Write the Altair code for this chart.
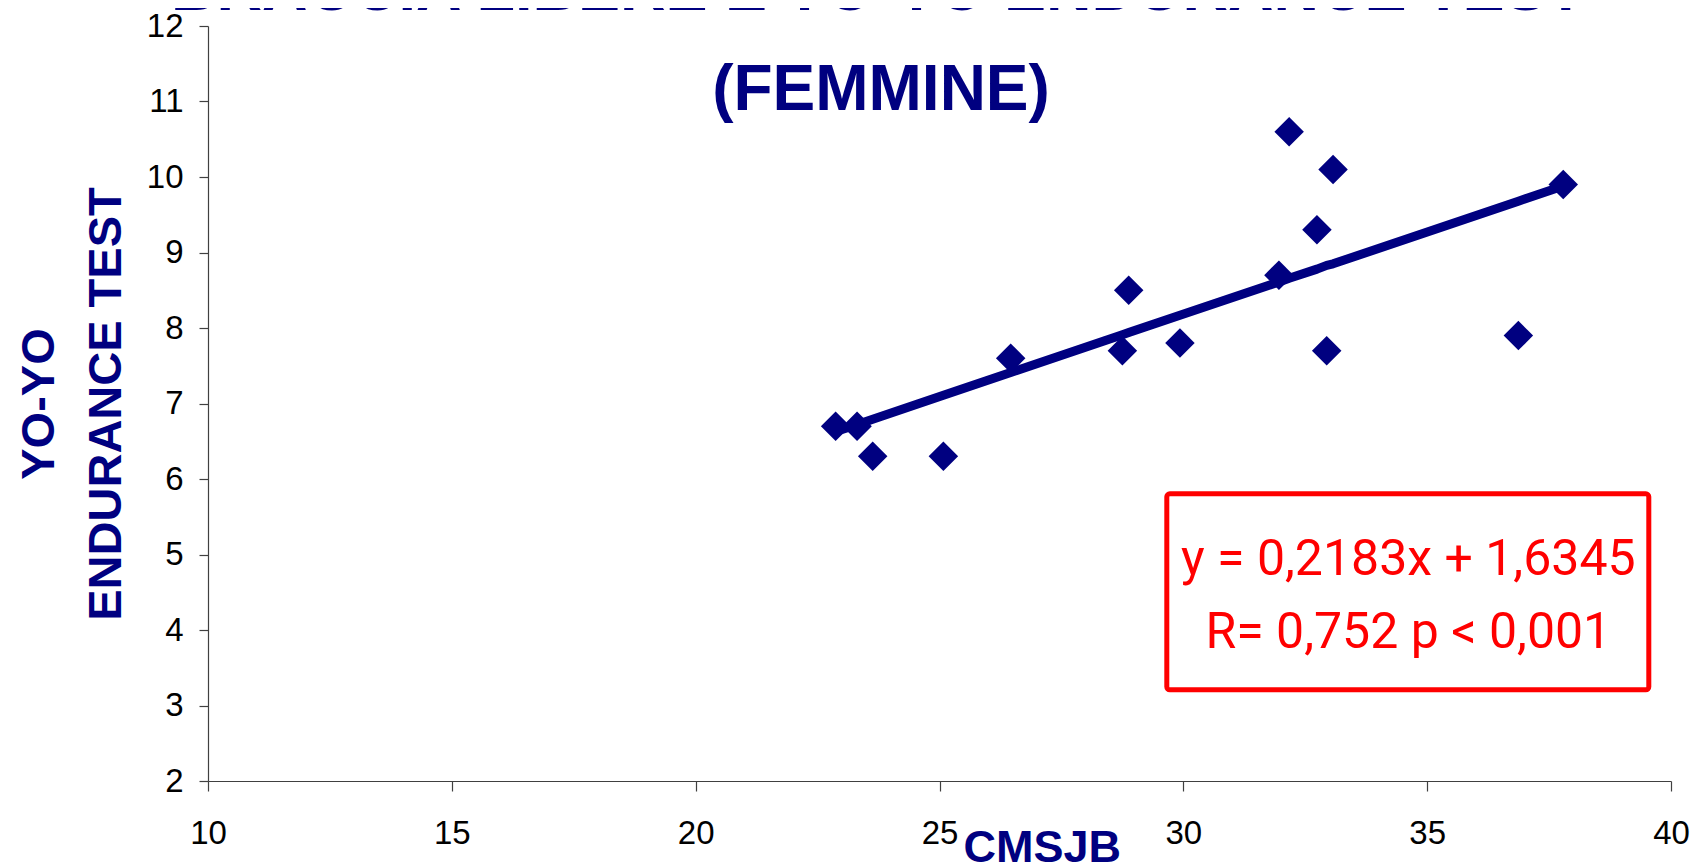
import altair as alt
import pandas as pd

# Data
cmsjb = [22.87, 23.31, 23.63, 25.08, 26.46, 28.75, 28.88, 29.93, 31.96, 32.17, 32.74, 32.94, 33.07, 36.87, 37.79]
yoyo = [6.7, 6.7, 6.3, 6.3, 7.6, 7.7, 8.5, 7.8, 8.7, 10.6, 9.3, 7.7, 10.1, 7.9, 9.9]
trend_x = [22.87, 23.31, 23.63, 25.08, 26.46, 28.75, 28.88, 29.93, 31.96, 32.17, 32.74, 32.94, 33.07, 36.87, 37.79]
trend_y = [6.63, 6.72, 6.79, 7.11, 7.41, 7.91, 7.94, 8.17, 8.61, 8.66, 8.78, 8.83, 8.85, 9.68, 9.88]
x_ticks = [10, 15, 20, 25, 30, 35, 40]
y_ticks = [2, 3, 4, 5, 6, 7, 8, 9, 10, 11, 12]
title_lines = ["BRACCIA LIBERE E YO-YO ENDURANCE TEST", "(FEMMINE)"]
y_title_lines = ["YO-YO", "ENDURANCE TEST"]
x_title = "CMSJB"
box_lines = ["y = 0,2183x + 1,6345", "R= 0,752 p < 0,001"]

NAVY = "#000080"
W, H = 1463, 755

pts = pd.DataFrame({"x": cmsjb, "y": yoyo})
trend = pd.DataFrame({"x": trend_x, "y": trend_y})

xscale = alt.Scale(domain=[10, 40], nice=False, zero=False)
yscale = alt.Scale(domain=[2, 12], nice=False, zero=False)

xaxis = alt.Axis(values=x_ticks, format="d", title=None, grid=False, labelFontSize=33,
                 labelFont="Liberation Sans", labelColor="black", tickSize=10,
                 labelPadding=26, domainColor="#404040", tickColor="#404040",
                 domainWidth=1.2, tickWidth=1.2, labelFlush=False)
yaxis = alt.Axis(values=y_ticks, format="d", title=None, grid=False, labelFontSize=33,
                 labelFont="Liberation Sans", labelColor="black", tickSize=9,
                 labelPadding=16, domainColor="#404040", tickColor="#404040",
                 domainWidth=1.2, tickWidth=1.2, labelFlush=False)

points = alt.Chart(pts).mark_point(shape="diamond", filled=True, size=870,
                                   color=NAVY, opacity=1, strokeWidth=0).encode(
    x=alt.X("x:Q", scale=xscale, axis=xaxis),
    y=alt.Y("y:Q", scale=yscale, axis=yaxis),
)

line = alt.Chart(trend).mark_line(color=NAVY, strokeWidth=9, strokeJoin="round").encode(
    x=alt.X("x:Q", scale=xscale),
    y=alt.Y("y:Q", scale=yscale),
    order="x:Q",
)

def text_layer(txt, x, y, size, color, font, weight="normal", angle=0,
               baseline="alphabetic", align="center"):
    kw = dict(fontSize=size, color=color, font=font, fontWeight=weight,
              baseline=baseline, align=align)
    if angle:
        kw["angle"] = angle
    return alt.Chart(pd.DataFrame({"t": [txt]})).mark_text(**kw).encode(
        text="t:N", x=alt.value(x), y=alt.value(y))

title1 = text_layer(title_lines[0], 670, -15.7, 63, NAVY, "Liberation Sans", "bold")
title2 = text_layer(title_lines[1], 673, 84.3, 64, NAVY, "Liberation Sans", "bold")

ytitle1 = text_layer(y_title_lines[0], -168.3, 378, 47, NAVY, "Liberation Sans", "bold",
                     angle=270, baseline="middle")
ytitle2 = text_layer(y_title_lines[1], -101.2, 378, 47, NAVY, "Liberation Sans", "bold",
                     angle=270, baseline="middle")

xtitle = text_layer(x_title, 834.3, 821.5, 45, NAVY, "Liberation Sans", "bold", baseline="middle")

box = alt.Chart(pd.DataFrame({"a": [0]})).mark_rect(
    fill="white", stroke="#FF0000", strokeWidth=5, cornerRadius=3).encode(
    x=alt.value(958.8), x2=alt.value(1440.8), y=alt.value(467.8), y2=alt.value(663.8))

box1 = text_layer(box_lines[0], 1200.3, 549.3, 50, "#FF0000", "Roboto")
box2 = text_layer(box_lines[1], 1200.3, 622.3, 50, "#FF0000", "Roboto")

chart = alt.layer(
    points, line, box, box1, box2, title1, title2, ytitle1, ytitle2, xtitle
).properties(
    width=W, height=H,
    autosize=alt.AutoSizeParams(type="none"),
    padding={"left": 200, "top": 18, "right": 20, "bottom": 86},
    background="white",
).configure_view(stroke=None)

chart.save("out.html", embed_options={"renderer": "svg", "actions": False})
